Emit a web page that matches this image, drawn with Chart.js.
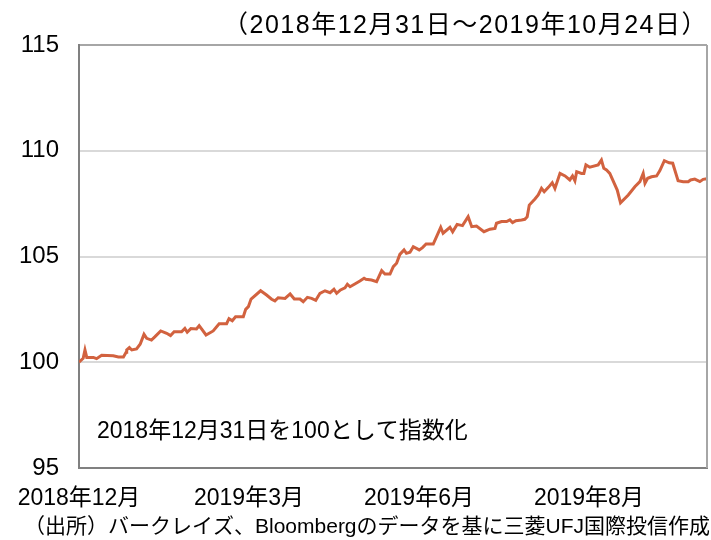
<!DOCTYPE html>
<html>
<head>
<meta charset="utf-8">
<script src="https://cdn.jsdelivr.net/npm/chart.js@4/dist/chart.umd.min.js"></script>
<style>
  body { margin: 0; background: #fff; }
  canvas { display: block; }
</style>
</head>
<body>
<canvas id="indexChart" width="711" height="540"></canvas>
<script>
const FONT = "'Liberation Sans', 'Noto Sans CJK JP', sans-serif";

// trading-day position (0 = 2018/12/31) and index level
const dayPos = [
  0, 1.4, 2.0, 2.6, 4.8, 5.9, 7.6, 11.5, 13.2, 14.9, 15.8, 16.0, 16.9, 17.7, 19.3,
  20.5, 21.8, 22.7, 24.3, 25.5, 27.4, 29.4, 30.7, 31.9, 34.4, 35.5, 36.3, 37.5, 39.4,
  40.3, 42.6, 45.0, 47.0, 49.5, 50.3, 51.4, 52.5, 55.1, 55.9, 56.8, 57.7, 60.9, 62.9,
  64.6, 65.7, 66.8, 69.1, 70.8, 72.2, 74.1, 75.2, 76.6, 78.0, 79.4, 80.8, 82.5, 84.2,
  85.5, 86.4, 87.7, 89.2, 90.0, 90.9, 92.5, 94.2, 95.6, 96.2, 98.1, 99.8, 101.5, 102.6,
  104.3, 105.4, 106.5, 107.6, 109.0, 109.8, 111.0, 112.1, 114.1, 115.2, 116.4, 118.8,
  121.3, 122.1, 124.4, 125.3, 126.8, 128.6, 130.5, 131.7, 133.3, 135.8, 137.8, 139.5,
  140.0, 141.7, 143.4, 144.5, 145.4, 146.5, 148.4, 149.5, 150.3, 151.0, 152.9, 154.0,
  155.1, 156.0, 157.4, 158.7, 159.6, 161.3, 163.0, 164.6, 165.5, 166.3, 166.9, 168.5,
  169.3, 170.0, 171.3, 174.1, 175.2, 176.0, 176.9, 178.0, 179.5, 180.5, 181.6, 184.2,
  186.4, 188.1, 189.2, 189.8, 190.7, 192.0, 193.7, 194.8, 196.3, 197.9, 199.1, 200.9,
  202.6, 204.3, 205.1, 206.5, 208.2, 209.3, 210.6
];
const indexLevel = [
  100.00, 100.19, 100.58, 100.23, 100.23, 100.17, 100.33, 100.31, 100.25, 100.25, 100.47,
  100.58, 100.69, 100.58, 100.63, 100.85, 101.32, 101.13, 101.05, 101.21, 101.48, 101.37,
  101.26, 101.44, 101.44, 101.60, 101.42, 101.59, 101.57, 101.73, 101.29, 101.48, 101.82,
  101.82, 102.06, 101.96, 102.15, 102.15, 102.50, 102.63, 102.99, 103.38, 103.18, 102.98,
  102.90, 103.05, 103.02, 103.23, 102.99, 102.99, 102.86, 103.07, 103.02, 102.93, 103.26,
  103.38, 103.29, 103.45, 103.26, 103.42, 103.52, 103.69, 103.57, 103.70, 103.84, 103.97,
  103.92, 103.89, 103.81, 104.33, 104.17, 104.17, 104.52, 104.68, 105.10, 105.31, 105.15,
  105.20, 105.46, 105.31, 105.42, 105.59, 105.59, 106.38, 106.10, 106.38, 106.17, 106.52,
  106.46, 106.88, 106.41, 106.44, 106.17, 106.29, 106.33, 106.57, 106.65, 106.65, 106.73,
  106.60, 106.69, 106.73, 106.76, 106.88, 107.43, 107.72, 107.91, 108.22, 108.06, 108.27,
  108.49, 108.22, 108.93, 108.81, 108.62, 108.81, 108.58, 109.01, 108.93, 108.93, 109.33,
  109.22, 109.33, 109.56, 109.17, 109.09, 108.93, 108.46, 108.14, 107.54, 107.91, 108.30,
  108.54, 108.93, 108.46, 108.70, 108.77, 108.81, 109.06, 109.53, 109.43, 109.41, 108.58,
  108.54, 108.54, 108.62, 108.66, 108.54, 108.65, 108.68
];

const tickPos = [0, 57, 114, 171];
const tickLabels = ["2018年12月", "2019年3月", "2019年6月", "2019年8月"];
const yTicks = [95, 100, 105, 110, 115];

const titleText = "（2018年12月31日～2019年10月24日）";
const noteText = "2018年12月31日を100として指数化";
const sourceText = "（出所）バークレイズ、Bloombergのデータを基に三菱UFJ国際投信作成";

const points = dayPos.map((d, i) => ({ x: d, y: indexLevel[i] }));

// texts and right frame edge
const extras = {
  id: "extras",
  afterDraw(chart) {
    const { ctx, chartArea } = chart;
    ctx.save();
    ctx.strokeStyle = "#a6a6a6";
    ctx.lineWidth = 2;
    ctx.beginPath();
    ctx.moveTo(chartArea.right, chartArea.top);
    ctx.lineTo(chartArea.right, chartArea.bottom);
    ctx.stroke();

    ctx.fillStyle = "#000";
    ctx.textBaseline = "middle";
    ctx.font = "25px " + FONT;
    ctx.letterSpacing = "1.5px";
    ctx.textAlign = "right";
    ctx.fillText(titleText, 708, 26);
    ctx.letterSpacing = "0px";
    ctx.textAlign = "left";
    ctx.font = "23px " + FONT;
    ctx.fillText(noteText, 97, 432);
    ctx.font = "21px " + FONT;
    ctx.fillText(sourceText, 24, 527);
    ctx.restore();
  }
};

new Chart(document.getElementById("indexChart"), {
  type: "line",
  data: {
    datasets: [{
      data: points,
      borderColor: "#d2623f",
      borderWidth: 3,
      pointRadius: 0,
      tension: 0
    }]
  },
  options: {
    responsive: false,
    animation: false,
    devicePixelRatio: 1,
    layout: { padding: { top: 45, right: 4, left: 0, bottom: 0 } },
    plugins: { legend: { display: false }, tooltip: { enabled: false } },
    scales: {
      x: {
        type: "linear",
        min: 0,
        max: dayPos[dayPos.length - 1],
        afterBuildTicks: (s) => { s.ticks = tickPos.map((v) => ({ value: v })); },
        afterFit: (s) => { s.height = 72; },
        grid: { display: false, drawTicks: false },
        border: { color: "#808080", width: 2 },
        ticks: {
          autoSkip: false,
          maxRotation: 0,
          padding: 17,
          color: "#000",
          font: { family: FONT, size: 23 },
          callback: (v, i) => tickLabels[i]
        }
      },
      y: {
        min: 95,
        max: 115,
        afterBuildTicks: (s) => { s.ticks = yTicks.map((v) => ({ value: v })); },
        afterFit: (s) => { s.width = 79; },
        grid: {
          drawTicks: false,
          lineWidth: 2,
          color: (c) => (c.tick && c.tick.value === 115 ? "#a6a6a6" : "#d9d9d9")
        },
        border: { color: "#808080", width: 2 },
        ticks: {
          padding: 20,
          color: "#000",
          font: { family: FONT, size: 24 }
        }
      }
    }
  },
  plugins: [extras]
});
</script>
</body>
</html>
